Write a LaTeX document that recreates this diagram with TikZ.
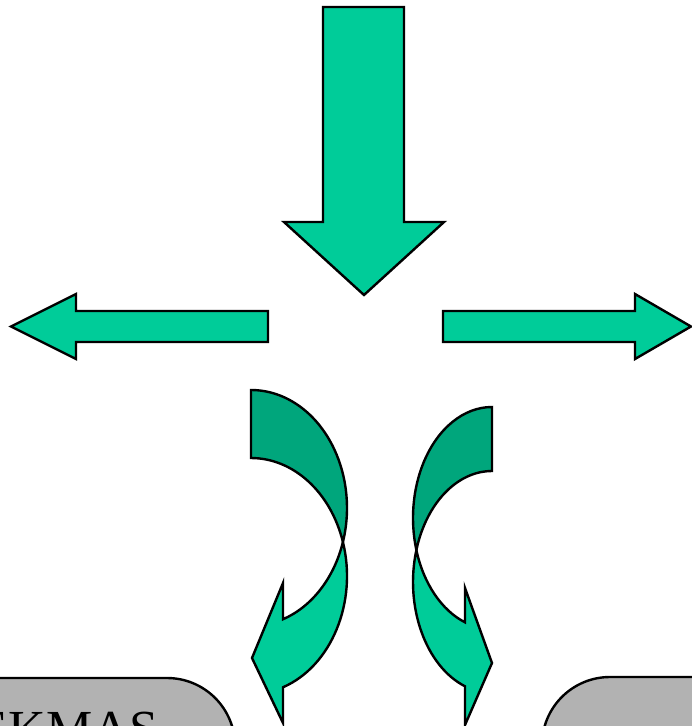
\documentclass[tikz,border=0pt]{standalone}
\usepackage{fontspec}
\setmainfont{Liberation Serif}
\usetikzlibrary{calc}
\definecolor{arrowlight}{RGB}{0,204,153}
\definecolor{arrowdark}{RGB}{0,166,124}
\definecolor{boxgray}{RGB}{178,178,178}
\tikzset{
  lightshape/.style={fill=arrowlight, draw=black, line width=2.4pt, line join=miter},
  darkshape/.style={fill=arrowdark, draw=black, line width=2.4pt, line join=miter},
  graybox/.style={fill=boxgray, draw=black, line width=2.4pt, rounded corners=68pt},
}
\begin{document}
\begin{tikzpicture}[x=1pt,y=-1pt]
\useasboundingbox (0,0) rectangle (692,726);
\clip (0,0) rectangle (692,726);
% straight arrows
\draw[lightshape] (323,7) -- (404,7) -- (404,222) -- (444,222) -- (364,295) -- (284,222) -- (323,222) -- cycle;
\draw[lightshape] (268,311) -- (76,311) -- (76,294) -- (11,326.5) -- (76,359) -- (76,342) -- (268,342) -- cycle;
\draw[lightshape] (443,311) -- (635,311) -- (635,294) -- (691,326.5) -- (635,359) -- (635,342) -- (443,342) -- cycle;
% left curved arrow
\draw[darkshape] (251,390) arc[start angle=90, end angle=-16.75, x radius=96pt, y radius=118pt]
  arc[start angle=16.75, end angle=90, x radius=96pt, y radius=118pt] -- cycle;
\draw[lightshape] ($(251,508)+(-16.75:96pt and 118pt)$)
  arc[start angle=-16.75, end angle=-70.53, x radius=96pt, y radius=118pt]
  -- (283,583) -- (252,658) -- (283,723) -- (283,687.25)
  arc[start angle=-70.53, end angle=16.75, x radius=96pt, y radius=118pt] -- cycle;
% right curved arrow
\draw[darkshape] (492,407) arc[start angle=90, end angle=196.76, x radius=79pt, y radius=111pt]
  arc[start angle=163.24, end angle=90, x radius=79pt, y radius=111pt] -- cycle;
\draw[lightshape] ($(492,518)+(196.76:79pt and 111pt)$)
  arc[start angle=196.76, end angle=250, x radius=79pt, y radius=111pt]
  -- (465,588) -- (492,663) -- (465,725) -- (465,686.3)
  arc[start angle=250, end angle=163.24, x radius=79pt, y radius=111pt] -- cycle;
% boxes
\draw[graybox] (-80,678) rectangle (235,820);
\draw[graybox] (542,677) rectangle (800,820);
\node[anchor=base west, inner sep=0pt, font=\fontsize{52}{62}\selectfont] (ekmas) at (-23.5,746.5) {EKMAS};
\end{tikzpicture}
\end{document}
